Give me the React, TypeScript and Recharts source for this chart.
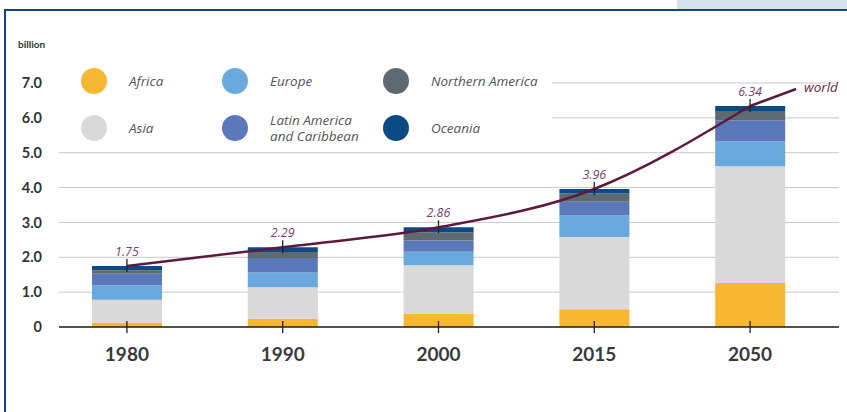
import React from "react";
import {
  ComposedChart,
  Bar,
  Line,
  XAxis,
  YAxis,
  CartesianGrid,
  LabelList,
} from "recharts";

// urban population by region, billion
const years = ["1980", "1990", "2000", "2015", "2050"];
const africa = [0.13, 0.24, 0.37, 0.51, 1.26];
const asia = [0.65, 0.9, 1.4, 2.07, 3.35];
const europe = [0.41, 0.42, 0.39, 0.62, 0.72];
const latinAmerica = [0.34, 0.42, 0.32, 0.39, 0.6];
const northernAmerica = [0.1, 0.17, 0.24, 0.24, 0.27];
const oceania = [0.12, 0.14, 0.14, 0.13, 0.14];
const world = [1.75, 2.29, 2.86, 3.96, 6.34];
const yTicks = [0, 1, 2, 3, 4, 5, 6, 7];

const regions = [
  { key: "africa", name: "Africa", color: "#f7b733", values: africa },
  { key: "asia", name: "Asia", color: "#d9d9d9", values: asia },
  { key: "europe", name: "Europe", color: "#6aa9dd", values: europe },
  { key: "latin", name: "Latin America\nand Caribbean", color: "#5a78ba", values: latinAmerica },
  { key: "north", name: "Northern America", color: "#5e6a72", values: northernAmerica },
  { key: "oceania", name: "Oceania", color: "#0c4a86", values: oceania },
];

// legend reads column by column: Africa/Asia, Europe/Latin America, Northern America/Oceania
const legendOrder = ["africa", "europe", "north", "asia", "latin", "oceania"];

const data = years.map((year, i) => {
  const row: Record<string, string | number> = { year, world: world[i] };
  regions.forEach((r) => (row[r.key] = r.values[i]));
  return row;
});

const FONT = "Lato, 'Open Sans', sans-serif";
const LINE_COLOR = "#5c1a3d";

function YearTick({ x, y, payload }: any) {
  return (
    <g>
      <line x1={x} x2={x} y1={y - 6} y2={y + 6} stroke="#222" strokeWidth={1.3} />
      <text
        x={x}
        y={y + 34}
        textAnchor="middle"
        fill="#3a3a3a"
        fontSize={19}
        fontWeight={700}
        fontFamily={FONT}
      >
        {payload.value}
      </text>
    </g>
  );
}

function WorldDot(props: any) {
  const { cx, cy, index } = props;
  const last = index === years.length - 1;
  return (
    <g key={`dot-${index}`}>
      <line x1={cx} x2={cx} y1={cy - 7} y2={cy + 6} stroke="#222" strokeWidth={1.3} />
      {last && (
        <>
          <line x1={cx} y1={cy} x2={cx + 46} y2={cy - 17} stroke={LINE_COLOR} strokeWidth={2.5} />
          <text
            x={cx + 54}
            y={cy - 14}
            fill="#5a2a4a"
            fontSize={13.5}
            fontStyle="italic"
            fontFamily="'Open Sans', sans-serif"
          >
            world
          </text>
        </>
      )}
    </g>
  );
}

function RegionLegend() {
  const items = legendOrder.map((k) => regions.find((r) => r.key === k)!);
  return (
    <div
      style={{
        position: "absolute",
        left: 59,
        top: 64,
        width: 493,
        height: 84,
        background: "#fff",
        display: "grid",
        gridTemplateColumns: "141px 161px 180px",
        gridAutoRows: "26px",
        rowGap: 21,
        paddingLeft: 22,
        paddingTop: 4,
        boxSizing: "border-box",
      }}
    >
      {items.map((r) => (
        <div key={r.key} style={{ display: "flex", alignItems: "center" }}>
          <span
            style={{
              width: 26,
              height: 26,
              borderRadius: 13,
              background: r.color,
              flex: "none",
            }}
          />
          <span
            style={{
              marginLeft: 22,
              fontFamily: "'Open Sans', sans-serif",
              fontStyle: "italic",
              fontSize: 13.5,
              lineHeight: "16px",
              color: "#555",
              whiteSpace: "pre",
            }}
          >
            {r.name}
          </span>
        </div>
      ))}
    </div>
  );
}

export default function App() {
  return (
    <div
      style={{
        position: "absolute",
        left: 0,
        top: 0,
        width: 847,
        height: 412,
        background: "#fff",
        overflow: "hidden",
      }}
    >
      <div style={{ position: "absolute", left: 677, top: 0, width: 170, height: 9, background: "#d4e2ed" }} />
      <div
        style={{
          position: "absolute",
          left: 4,
          top: 9,
          width: 843,
          height: 420,
          borderTop: "2.5px solid #173f8a",
          borderLeft: "2.5px solid #173f8a",
          boxSizing: "border-box",
        }}
      />
      <div
        style={{
          position: "absolute",
          left: 18,
          top: 38,
          fontFamily: FONT,
          fontWeight: 700,
          fontSize: 10,
          color: "#333",
        }}
      >
        billion
      </div>
      <div style={{ position: "absolute", left: 0, top: 0 }}>
        <ComposedChart
          width={847}
          height={412}
          data={data}
          margin={{ top: 83, right: 8, left: 0, bottom: 25 }}
        >
          <CartesianGrid vertical={false} stroke="#c9c9c9" />
          <YAxis
            type="number"
            domain={[0, 7]}
            ticks={yTicks}
            width={59}
            axisLine={false}
            tickLine={false}
            tickSize={0}
            tickMargin={17}
            interval={0}
            tick={{ fill: "#333", fontSize: 14.5, fontWeight: 700, fontFamily: FONT }}
            tickFormatter={(v: number) => (v === 0 ? "0" : v.toFixed(1))}
          />
          {regions.map((r) => (
            <Bar
              key={r.key}
              dataKey={r.key}
              stackId="urban"
              fill={r.color}
              barSize={70}
              isAnimationActive={false}
            />
          ))}
          <Line
            type="monotone"
            dataKey="world"
            stroke={LINE_COLOR}
            strokeWidth={2.5}
            dot={(p: any) => <WorldDot {...p} key={`dot-${p.index}`} />}
            activeDot={false}
            isAnimationActive={false}
          >
            <LabelList
              dataKey="world"
              position="top"
              offset={10}
              fill="#7a3d66"
              fontSize={12.5}
              fontStyle="italic"
              fontFamily="'Open Sans', sans-serif"
              formatter={(v: any) => Number(v).toFixed(2)}
            />
          </Line>
          <XAxis
            dataKey="year"
            height={60}
            padding={{ left: -10, right: 11 }}
            axisLine={{ stroke: "#222", strokeWidth: 1.5 }}
            tickLine={false}
            tickSize={0}
            tickMargin={0}
            interval={0}
            tick={<YearTick />}
          />
        </ComposedChart>
      </div>
      <RegionLegend />
    </div>
  );
}
